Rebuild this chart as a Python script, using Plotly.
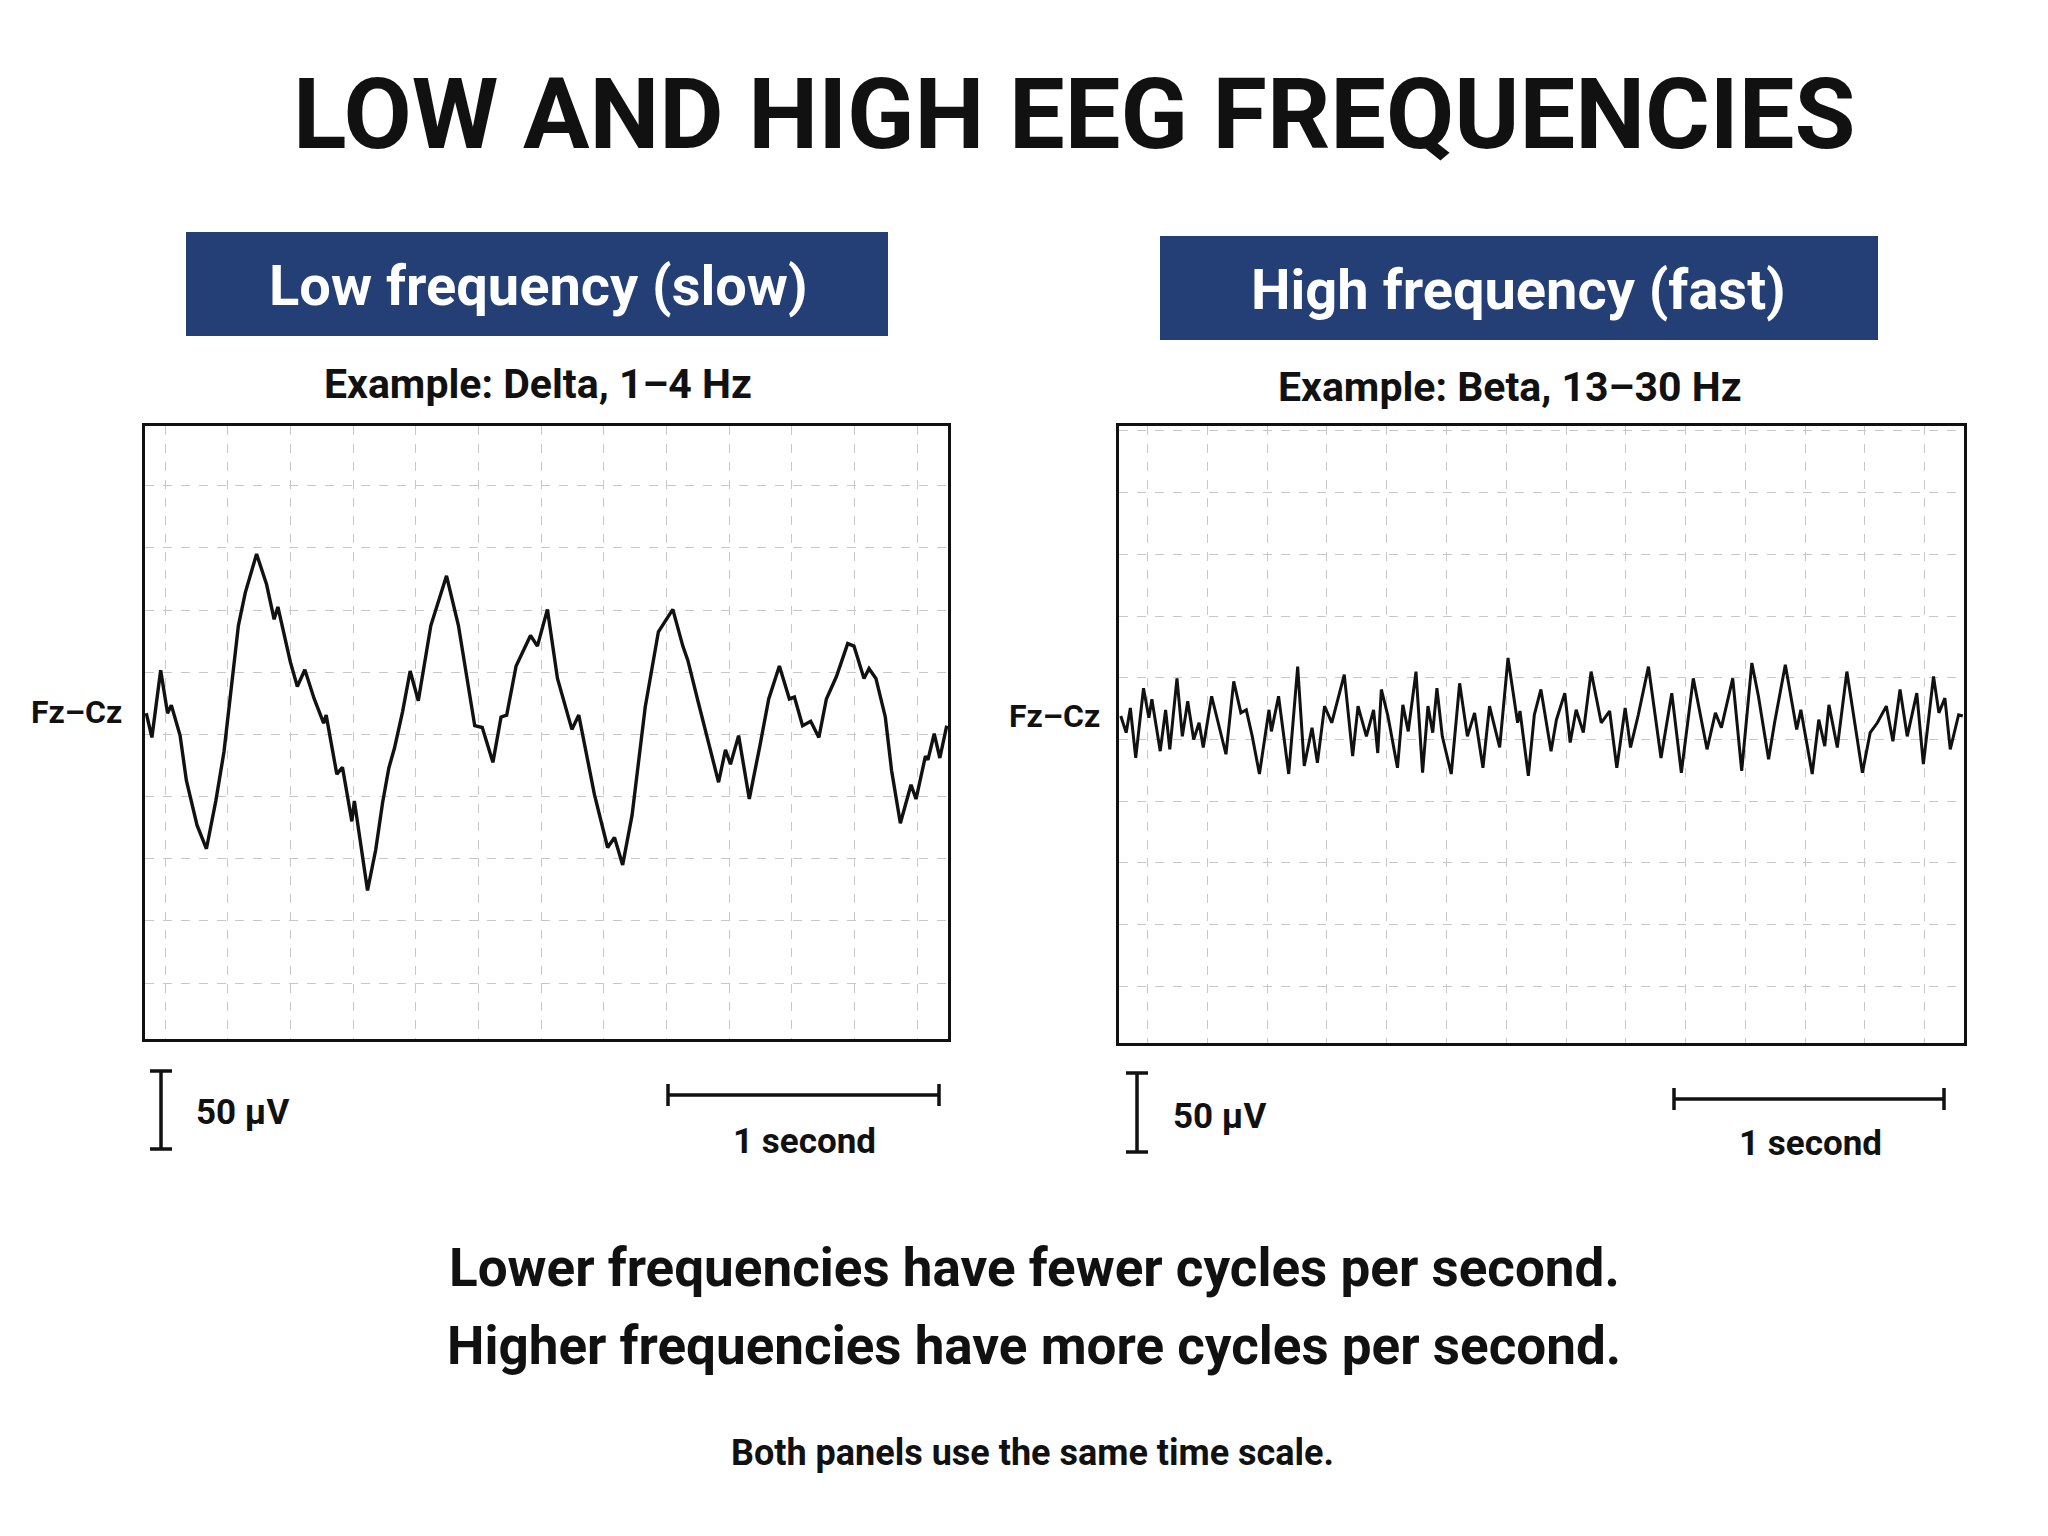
import plotly.graph_objects as go

# ---- data (time in grid divisions, amplitude in grid divisions) ----
delta_t = [-0.30,-0.21,-0.07,0.04,0.10,0.24,0.34,0.51,0.66,0.81,0.94,1.02,1.17,1.28,1.46,1.62,1.74,1.80,2.00,2.11,
           2.23,2.38,2.53,2.57,2.74,2.83,2.98,3.02,3.23,3.36,3.47,3.57,3.66,3.79,3.91,4.04,4.24,4.49,4.68,4.94,
           5.06,5.23,5.36,5.45,5.60,5.83,5.94,6.10,6.26,6.49,6.60,6.85,7.06,7.17,7.30,7.45,7.53,7.66,7.87,8.10,
           8.26,8.34,8.51,8.68,8.83,8.94,9.02,9.15,9.32,9.49,9.63,9.80,9.96,10.04,10.17,10.30,10.43,10.55,10.71,10.89,
           10.99,11.15,11.23,11.34,11.49,11.59,11.73,11.90,11.98,12.13,12.17,12.27,12.36,12.47]
delta_v = [0.34,-0.05,1.03,0.34,0.47,-0.02,-0.74,-1.46,-1.84,-1.07,-0.28,0.44,1.75,2.28,2.90,2.41,1.85,2.05,1.16,0.77,
           1.04,0.57,0.18,0.31,-0.64,-0.53,-1.40,-1.07,-2.51,-1.86,-1.10,-0.54,-0.22,0.37,1.02,0.54,1.75,2.55,1.75,0.14,
           0.11,-0.45,0.28,0.31,1.10,1.59,1.42,2.01,0.90,0.08,0.31,-0.97,-1.82,-1.66,-2.10,-1.30,-0.61,0.44,1.65,2.01,
           1.42,1.19,0.50,-0.18,-0.77,-0.25,-0.48,-0.02,-1.04,-0.18,0.57,1.10,0.57,0.60,0.14,0.21,-0.05,0.57,0.93,1.46,
           1.42,0.90,1.06,0.90,0.28,-0.58,-1.43,-0.81,-1.04,-0.35,-0.41,0.01,-0.38,0.14]

beta_t = [-0.45,-0.36,-0.29,-0.20,-0.07,0.02,0.07,0.21,0.30,0.37,0.49,0.58,0.67,0.77,0.86,0.93,1.07,1.19,1.31,1.44,
          1.56,1.65,1.75,1.87,2.03,2.07,2.19,2.36,2.51,2.62,2.75,2.84,2.96,3.08,3.29,3.43,3.52,3.66,3.78,3.85,
          3.91,4.02,4.18,4.27,4.36,4.49,4.60,4.69,4.77,4.84,4.93,5.08,5.22,5.35,5.47,5.61,5.72,5.89,6.03,6.19,
          6.23,6.37,6.47,6.58,6.75,6.84,6.98,7.07,7.17,7.29,7.42,7.59,7.73,7.85,7.99,8.08,8.21,8.38,8.59,8.77,
          8.93,9.13,9.36,9.50,9.60,9.79,9.94,10.11,10.22,10.39,10.49,10.67,10.86,10.93,11.12,11.23,11.33,11.40,11.54,11.70,
          11.96,12.09,12.21,12.36,12.47,12.59,12.71,12.87,12.98,13.15,13.24,13.34,13.43,13.57,13.64]
beta_v = [0.38,0.11,0.51,-0.30,0.83,0.35,0.65,-0.19,0.48,-0.16,0.99,0.05,0.62,0.00,0.27,-0.13,0.70,0.22,-0.24,0.94,
          0.43,0.48,0.05,-0.56,0.48,0.13,0.70,-0.56,1.18,-0.43,0.19,-0.38,0.54,0.27,1.05,-0.27,0.54,0.05,0.48,-0.22,
          0.81,0.38,-0.46,0.56,0.13,1.10,-0.54,0.54,0.11,0.83,0.05,-0.56,0.91,0.05,0.43,-0.46,0.54,-0.13,1.32,0.27,
          0.46,-0.59,0.40,0.81,-0.19,0.32,0.75,-0.05,0.48,0.11,1.10,0.27,0.46,-0.46,0.51,-0.13,0.40,1.18,-0.30,0.75,
          -0.54,0.99,-0.16,0.43,0.19,0.99,-0.51,1.24,0.70,-0.32,0.27,1.21,0.16,0.48,-0.56,0.32,-0.11,0.56,-0.13,1.10,
          -0.54,0.11,0.27,0.54,-0.03,0.81,0.05,0.75,-0.40,1.02,0.43,0.67,-0.16,0.40,0.38]
n = min(len(beta_t), len(beta_v))
beta_t, beta_v = beta_t[:n], beta_v[:n]

W, H = 2048, 1536
def px(x): return x / W
def py(y): return 1 - y / H

FONT = "Liberation Sans Narrow, Roboto, Arial Narrow, sans-serif"
NAVY = "#233f76"

fig = go.Figure()
fig.add_trace(go.Scatter(x=delta_t, y=delta_v, mode="lines", line=dict(color="#111", width=3.4),
                         xaxis="x", yaxis="y", showlegend=False, hoverinfo="skip"))
fig.add_trace(go.Scatter(x=beta_t, y=beta_v, mode="lines", line=dict(color="#111", width=3),
                         xaxis="x2", yaxis="y2", showlegend=False, hoverinfo="skip"))

ax = dict(showline=True, linecolor="#111", linewidth=2.5, mirror=True, showticklabels=False, ticks="",
          showgrid=True, gridcolor="#c8c8c8", griddash="dash", gridwidth=1, zeroline=False, dtick=1, tick0=0,
          fixedrange=True)
fig.update_layout(
    width=W, height=H, margin=dict(l=0, r=0, t=0, b=0),
    paper_bgcolor="white", plot_bgcolor="white",
    xaxis=dict(ax, domain=[px(137), px(940)], range=[-0.32, 12.49]),
    yaxis=dict(ax, domain=[py(1031), py(418)], range=[-4.9, 4.96]),
    xaxis2=dict(ax, domain=[px(1111), px(1956)], range=[-0.48, 13.66], anchor="y2"),
    yaxis2=dict(ax, domain=[py(1035), py(418)], range=[-4.92, 5.08], anchor="x2"),
)

shapes = []
for (x0, y0, x1, y1) in [(178, 224, 880, 328), (1152, 228, 1870, 332)]:
    shapes.append(dict(type="rect", xref="paper", yref="paper", x0=px(x0), x1=px(x1), y0=py(y1), y1=py(y0),
                       fillcolor=NAVY, line=dict(color=NAVY, width=0), layer="below"))
for (x, y0, y1) in [(153, 1063, 1141), (1129, 1065, 1144)]:
    shapes.append(dict(type="line", xref="paper", yref="paper", x0=px(x), x1=px(x), y0=py(y0), y1=py(y1), line=dict(color="#111", width=3.5)))
    for y in (y0, y1):
        shapes.append(dict(type="line", xref="paper", yref="paper", x0=px(x-11), x1=px(x+11), y0=py(y), y1=py(y), line=dict(color="#111", width=3.5)))
for (x0, x1, y) in [(660, 931, 1087), (1666, 1936, 1091)]:
    shapes.append(dict(type="line", xref="paper", yref="paper", x0=px(x0), x1=px(x1), y0=py(y), y1=py(y), line=dict(color="#111", width=3.5)))
    for x in (x0, x1):
        shapes.append(dict(type="line", xref="paper", yref="paper", x0=px(x), x1=px(x), y0=py(y-11), y1=py(y+11), line=dict(color="#111", width=3.5)))
fig.update_layout(shapes=shapes)

def ann(text, x, y, size, color="#111", xanchor="center"):
    fig.add_annotation(text=text, x=px(x), y=py(y), xref="paper", yref="paper", showarrow=False,
                       xanchor=xanchor, yanchor="middle", font=dict(family=FONT, size=size, color=color))

ann("<b>LOW AND HIGH EEG FREQUENCIES</b>", 1066, 106, 99)
ann("<b>Low frequency (slow)</b>", 530, 278, 56, color="white")
ann("<b>High frequency (fast)</b>", 1510, 282, 56, color="white")
ann("<b>Example: Delta, 1–4 Hz</b>", 530, 376, 41)
ann("<b>Example: Beta, 13–30 Hz</b>", 1502, 379, 41)
ann("<b>Fz–Cz</b>", 68, 704, 32)
ann("<b>Fz–Cz</b>", 1046, 708, 32)
ann("<b>50 µV</b>", 186, 1104, 35, xanchor="left")
ann("<b>50 µV</b>", 1163, 1108, 35, xanchor="left")
ann("<b>1 second</b>", 796, 1133, 35)
ann("<b>1 second</b>", 1802, 1135, 35)
ann("<b>Lower frequencies have fewer cycles per second.</b>", 1026, 1260, 53)
ann("<b>Higher frequencies have more cycles per second.</b>", 1026, 1338, 53)
ann("<b>Both panels use the same time scale.</b>", 1024, 1445, 36)

fig.write_html("out.html")
